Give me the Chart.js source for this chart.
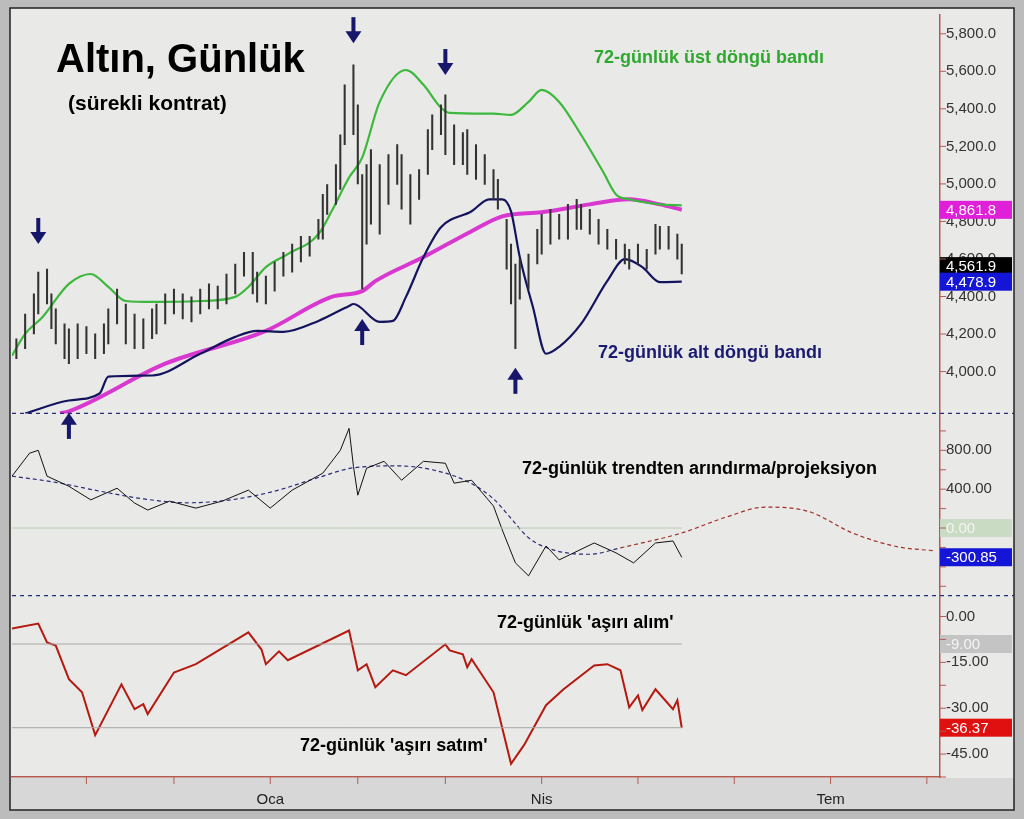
<!DOCTYPE html>
<html><head><meta charset="utf-8">
<script src="https://cdn.jsdelivr.net/npm/chart.js@4.4.1/dist/chart.umd.min.js"></script>
<style>
html,body{margin:0;padding:0;background:#bdbdbd;}
#wrap{position:absolute;left:0;top:0;width:1024px;height:819px;}
</style></head><body>
<div id="wrap"><canvas id="c"></canvas></div>
<script>
// ---- price bars (trading-day index, low, high)
const barDays=[1,3,5,6,8,9,10,12,13,15,17,19,21,22,24,26,28,30,32,33,35,37,39,41,43,45,47,49,51,53,55,56,58,60,62,64,66,68,70,71,72,74,75,76,78,79,80,81,82,84,86,88,89,91,93,95,96,98,99,101,103,104,106,108,110,111,113,114,115,116,118,120,121,123,125,127,129,130,132,134,136,138,140,141,143,145,147,148,150,152,153];
const barHigh=[4175,4307,4414,4530,4546,4414,4334,4254,4228,4254,4240,4201,4254,4334,4440,4360,4307,4281,4334,4360,4414,4440,4414,4398,4440,4467,4456,4520,4573,4636,4636,4530,4509,4583,4636,4679,4721,4721,4811,4944,4997,5103,5262,5528,5634,5422,5050,5103,5183,5103,5156,5209,5156,5050,5077,5289,5368,5422,5475,5315,5273,5289,5209,5156,5077,5024,4811,4679,4573,4599,4626,4758,4838,4865,4838,4891,4918,4891,4865,4811,4758,4705,4679,4652,4679,4652,4785,4774,4774,4732,4679];
const barLow=[4069,4122,4201,4307,4360,4228,4148,4069,4042,4069,4095,4069,4095,4148,4254,4148,4122,4122,4175,4201,4254,4307,4281,4265,4307,4334,4334,4360,4414,4509,4414,4370,4360,4429,4509,4530,4584,4615,4705,4705,4838,4891,4971,5209,5262,5000,4440,4679,4785,4732,4891,4997,4865,4785,4918,5050,5183,5262,5156,5103,5103,5050,5024,4997,4918,4865,4546,4360,4122,4386,4440,4573,4626,4679,4705,4705,4758,4758,4732,4679,4652,4599,4573,4546,4573,4546,4626,4652,4652,4599,4520];
// ---- upper cycle band
const upDays=[0,3,7,13,18,22,26,32,43,51,54,58,63,70,73,77,80,84,90,94,98,100,110,114,118,121,125,130,135,138,141,148,153];
const upVals=[4085,4201,4291,4467,4520,4451,4376,4371,4376,4398,4451,4557,4626,4732,4854,5034,5140,5437,5607,5528,5406,5379,5374,5368,5437,5501,5437,5262,5066,4944,4918,4891,4886];
// ---- 72-day moving average (magenta)
const maDays=[11,13,35,58,73,80,83,94,105,112,121,132,141,148,153];
const maVals=[3777,3788,4042,4217,4398,4429,4482,4610,4748,4827,4849,4891,4918,4891,4862];
// ---- lower cycle band
const loDays=[3,13,20,22,32,43,51,56,62,70,77,78,84,87,90,94,98,105,109,112,114,116,119,122,125,130,136,140,144,148,153];
const loVals=[3777,3846,3883,3973,3979,4095,4185,4217,4212,4270,4350,4360,4265,4270,4398,4610,4769,4854,4918,4918,4854,4610,4344,4095,4132,4254,4483,4599,4557,4477,4479];
// ---- detrend oscillator
const dtDays=[0,4,6,8,13,18,24,28,31,36,42,48,54,59,64,71,75,77,78,79,81,85,89,94,99,101,105,110,112,115,118,122,125,133,138,142,147,151,153];
const dtVals=[534,770,800,534,430,290,410,257,185,277,205,277,390,205,390,565,800,1026,636,338,616,687,492,687,667,462,492,226,-20,-359,-492,-185,-328,-154,-256,-359,-154,-133,-301];
const cycDays=[0,10,20,30,40,50,60,70,78,88,96,104,110,114,118,124,132,139];
const cycVals=[534,470,380,300,260,290,380,520,620,640,600,480,300,100,-100,-230,-270,-205];
const projDays=[139,153,163,172,182,192,202,211];
const projVals=[-205,-51,110,215,170,-51,-190,-236];
// ---- overbought/oversold oscillator
const obDays=[0,6,8,10,13,16,19,25,28,30,31,37,42,54,57,58,61,63,77,79,81,83,87,90,99,100,103,104,105,110,114,117,122,126,133,136,139,141,143,144,147,151,152,153];
const obVals=[-3.9,-2.3,-8.5,-9.5,-20.5,-24.8,-38.8,-22.2,-30.3,-28.7,-31.9,-18.3,-15.6,-5.2,-10.8,-15.6,-11.4,-14.3,-4.6,-17.6,-15.6,-23.1,-17.6,-19.2,-9.1,-11.1,-12.4,-16.6,-14,-24.8,-48.2,-42,-29,-23.8,-16,-15.6,-17.6,-29.7,-25.8,-30.6,-23.8,-30.3,-27.4,-36.4];
// ---- x axis
const monthTicks=[17,37,59,79,99,121,143,165,187,209];
const monthLabels={59:'Oca',121:'Nis',187:'Tem'};
// ---- arrows: day, price, direction
const arrowDays=[6,78,99,13,80,115];
const arrowVals=[4680,5750,5580,3780,4280,4020];
const arrowDirs=['down','down','down','up','up','up'];
// ---- value tags
const tags=[
 {axis:'yP',v:4861.8,t:'4,861.8',bg:'#e020d8',fg:'#fff'},
 {axis:'yP',v:4561.9,t:'4,561.9',bg:'#000',fg:'#fff'},
 {axis:'yP',v:4478.9,t:'4,478.9',bg:'#1515d8',fg:'#fff'},
 {axis:'yD',v:0,t:'0.00',bg:'#c9dcc3',fg:'#f4f4f4'},
 {axis:'yD',v:-300.85,t:'-300.85',bg:'#1515d8',fg:'#fff'},
 {axis:'yO',v:-9,t:'-9.00',bg:'#c4c4c4',fg:'#f4f4f4'},
 {axis:'yO',v:-36.37,t:'-36.37',bg:'#e01010',fg:'#fff'}
];

const xy=(d,v)=>d.map((x,i)=>({x:x,y:v[i]}));
const line=(d,v,axis,color,w,dash,smooth)=>({type:'line',data:xy(d,v),yAxisID:axis,borderColor:color,borderWidth:w,borderDash:dash||[],pointRadius:0,tension:smooth?0.3:0,cubicInterpolationMode:smooth?'monotone':'default',fill:false});

const bgPlugin={id:'bg',beforeDraw(c){const g=c.ctx;g.save();
 g.fillStyle='#bcbcbc';g.fillRect(0,0,1024,819);
 g.fillStyle='#e9e9e7';g.fillRect(10,8,1004,770);
 g.fillStyle='#d7d7d7';g.fillRect(10,778,1004,32);
 g.strokeStyle='#222';g.lineWidth=1.5;g.strokeRect(10,8,1004,802);
 g.restore();}};
const fgPlugin={id:'fg',afterDatasetsDraw(c){const g=c.ctx,s=c.scales;g.save();
 g.strokeStyle='#2a2a7a';g.lineWidth=1.2;g.setLineDash([4,4]);
 [s.yP.bottom,s.yD.bottom].forEach(y=>{g.beginPath();g.moveTo(12,y);g.lineTo(1014,y);g.stroke();});
 g.setLineDash([]);
 const ref=(ax,v,col)=>{const y=s[ax].getPixelForValue(v);g.strokeStyle=col;g.lineWidth=1;g.beginPath();g.moveTo(12,y);g.lineTo(s.x.getPixelForValue(153),y);g.stroke();};
 ref('yD',0,'#b8cdb2');ref('yO',-9,'#a8a8a8');ref('yO',-36.37,'#a8a8a8');
 g.fillStyle='#16166a';g.strokeStyle='#16166a';
 arrowDays.forEach((d,i)=>{const x=s.x.getPixelForValue(d),y=s.yP.getPixelForValue(arrowVals[i]);const dir=arrowDirs[i]==='down'?1:-1;
  g.lineWidth=4;g.beginPath();g.moveTo(x,y-dir*26);g.lineTo(x,y-dir*8);g.stroke();
  g.beginPath();g.moveTo(x-8,y-dir*12);g.lineTo(x+8,y-dir*12);g.lineTo(x,y);g.closePath();g.fill();});
 g.font='15px "Liberation Sans", Arial';g.textBaseline='middle';
 g.fillStyle='#3aa03a';g.fillRect(s.yP.left,s.yP.getPixelForValue(4886)-4,72,5);
 tags.forEach(t=>{const y=s[t.axis].getPixelForValue(t.v);g.fillStyle=t.bg;g.fillRect(s.yP.left,y-9,72,18);g.fillStyle=t.fg;g.fillText(t.t,s.yP.left+6,y+1);});
 g.textBaseline='alphabetic';g.fillStyle='#000';
 g.font='bold 40px "Liberation Sans", Arial';g.fillText('Altın, Günlük',56,72);
 g.font='bold 21px "Liberation Sans", Arial';g.fillText('(sürekli kontrat)',68,110);
 g.font='bold 18px "Liberation Sans", Arial';
 g.fillStyle='#2fa82f';g.fillText('72-günlük üst döngü bandı',594,63);
 g.fillStyle='#1a1a70';g.fillText('72-günlük alt döngü bandı',598,358);
 g.fillStyle='#000';g.fillText('72-günlük trendten arındırma/projeksiyon',522,474);
 g.fillText("72-günlük 'aşırı alım'",497,628);
 g.fillText("72-günlük 'aşırı satım'",300,751);
 g.restore();}};

const yCommon={position:'right',stack:'all',grid:{display:false,drawTicks:false},border:{color:'#b55a50',width:1.5},
 afterFit(a){a.width=74;}};
const tf={color:'#333',font:{size:15,family:'"Liberation Sans", Arial'},padding:6,autoSkip:false};
const tickMarks={id:'tm',afterDraw(c){const g=c.ctx;g.save();g.strokeStyle='#b55a50';g.lineWidth=1;
 ['yP','yD','yO'].forEach(k=>{const a=c.scales[k];a.ticks.forEach(t=>{const y=a.getPixelForValue(t.value);g.beginPath();g.moveTo(a.left,y);g.lineTo(a.left+6,y);g.stroke();});});
 const x=c.scales.x;monthTicks.forEach(d=>{const p=x.getPixelForValue(d);g.beginPath();g.moveTo(p,x.top);g.lineTo(p,x.top+7);g.stroke();});
 g.restore();}};

new Chart(document.getElementById('c'),{
 data:{datasets:[
  {type:'bar',data:barDays.map((d,i)=>({x:d,y:[barLow[i],barHigh[i]]})),yAxisID:'yP',backgroundColor:'#333',barThickness:1.4,grouped:false},
  line(upDays,upVals,'yP','#3cb83c',2.2,[],true),
  line(loDays,loVals,'yP','#14145e',2.2,[],true),
  line(maDays,maVals,'yP','#d838d0',4,[],true),
  line(dtDays,dtVals,'yD','#111',1,[],false),
  line(cycDays,cycVals,'yD','#2a2a7a',1.2,[4,3],true),
  line(projDays,projVals,'yD','#a0302a',1.2,[4,3],true),
  line(obDays,obVals,'yO','#b41a10',2,[],false)
 ]},
 options:{responsive:true,maintainAspectRatio:false,animation:false,
  layout:{padding:{left:12,right:10,top:10,bottom:4}},
  plugins:{legend:{display:false},tooltip:{enabled:false}},
  scales:{
   x:{type:'linear',offset:false,min:0,max:212,grid:{display:false,offset:false},border:{color:'#b55a50',width:1.5},
    afterBuildTicks(a){a.ticks=monthTicks.map(v=>({value:v}));},
    ticks:{autoSkip:false,maxRotation:0,color:'#222',font:{size:15,family:'"Liberation Sans", Arial'},padding:6,callback:v=>monthLabels[v]||''}},
   yP:{...yCommon,min:3777,max:5900,stackWeight:400,afterBuildTicks(a){a.ticks=[4000,4200,4400,4600,4800,5000,5200,5400,5600,5800].map(v=>({value:v}));},
    ticks:{...tf,callback:v=>v.toLocaleString('en-US',{minimumFractionDigits:1})}},
   yD:{...yCommon,min:-697,max:1180,stackWeight:183,afterBuildTicks(a){a.ticks=[-600,-400,-200,0,200,400,600,800,1000].map(v=>({value:v}));},
    ticks:{...tf,callback:v=>(v===800||v===400)?v.toFixed(2):''}},
   yO:{...yCommon,min:-52.5,max:6.8,stackWeight:182,afterBuildTicks(a){a.ticks=[-52.5,-45,-37.5,-30,-22.5,-15,-7.5,0].map(v=>({value:v}));},
    ticks:{...tf,callback:v=>(Math.abs(v%15)<0.01)?v.toFixed(2):''}}
  }},
 plugins:[bgPlugin,fgPlugin,tickMarks]
});
</script></body></html>
